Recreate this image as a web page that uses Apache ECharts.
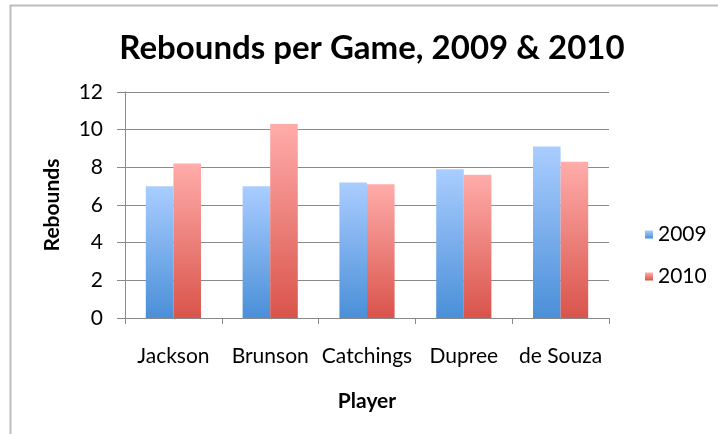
<!DOCTYPE html>
<html>
<head>
<meta charset="utf-8">
<script src="https://cdn.jsdelivr.net/npm/echarts@6/dist/echarts.min.js"></script>
<style>
    html, body { margin: 0; padding: 0; background: #fff; }
    #chart { width: 718px; height: 434px; }
</style>
</head>
<body>
<div id="chart"></div>
<script>
// players and rebounds per game
const players = ['Jackson', 'Brunson', 'Catchings', 'Dupree', 'de Souza']
const reb2009 = [7.0, 7.0, 7.2, 7.9, 9.1]
const reb2010 = [8.2, 10.3, 7.1, 7.6, 8.3]
const yTicks = [0, 2, 4, 6, 8, 10, 12]

const font = 'Lato, "Open Sans", sans-serif'

function grad(top, bottom) {
    return new echarts.graphic.LinearGradient(0, 0, 0, 1, [
        { offset: 0, color: top },
        { offset: 1, color: bottom }
    ])
}

const myChart = echarts.init(document.getElementById('chart'))
const options = {
    animation: false,
    textStyle: { fontFamily: font },
    title: {
        text: 'Rebounds per Game, 2009 & 2010',
        left: 367,
        top: 27,
        textAlign: 'center',
        textStyle: { fontFamily: font, fontSize: 33, fontWeight: 'bold', color: '#000' }
    },
    // light frame around the chart area
    graphic: [{
        type: 'rect',
        shape: { x: 10.5, y: 5.5, width: 760, height: 480 },
        style: { fill: 'none', stroke: '#bdbdbd', lineWidth: 2 },
        silent: true
    }],
    grid: { left: 125, right: 109, top: 92, bottom: 116 },
    legend: {
        orient: 'vertical',
        left: 640,
        top: 219,
        itemWidth: 8,
        itemHeight: 8,
        itemGap: 21,
        icon: 'rect',
        textStyle: { fontFamily: font, fontSize: 21, color: '#000' },
        data: ['2009', '2010']
    },
    xAxis: {
        type: 'category',
        data: players,
        name: 'Player',
        nameLocation: 'middle',
        nameGap: 73,
        nameTextStyle: { fontFamily: font, fontSize: 21, fontWeight: 'bold', color: '#000' },
        axisLine: { lineStyle: { color: '#8a8a8a', width: 1 } },
        axisTick: { show: true, length: 6, lineStyle: { color: '#8a8a8a' } },
        axisLabel: { fontFamily: font, fontSize: 21, color: '#000', margin: 28, interval: 0 }
    },
    yAxis: {
        type: 'value',
        min: yTicks[0],
        max: yTicks[yTicks.length - 1],
        interval: 2,
        name: 'Rebounds',
        nameLocation: 'middle',
        nameGap: 62,
        nameTextStyle: { fontFamily: font, fontSize: 21, fontWeight: 'bold', color: '#000' },
        axisLine: { show: true, lineStyle: { color: '#8a8a8a', width: 1 } },
        axisTick: { show: true, length: 8, lineStyle: { color: '#8a8a8a' } },
        axisLabel: { fontFamily: font, fontSize: 21, color: '#000', margin: 22 },
        splitLine: { lineStyle: { color: '#8a8a8a', width: 1 } }
    },
    series: [
        {
            name: '2009',
            type: 'bar',
            data: reb2009,
            barGap: '0%',
            barCategoryGap: '43%',
            itemStyle: { color: grad('#aacdff', '#4a8fd8') }
        },
        {
            name: '2010',
            type: 'bar',
            data: reb2010,
            itemStyle: { color: grad('#ffacaa', '#d9544b') }
        }
    ]
}
myChart.setOption(options)
</script>
</body>
</html>
